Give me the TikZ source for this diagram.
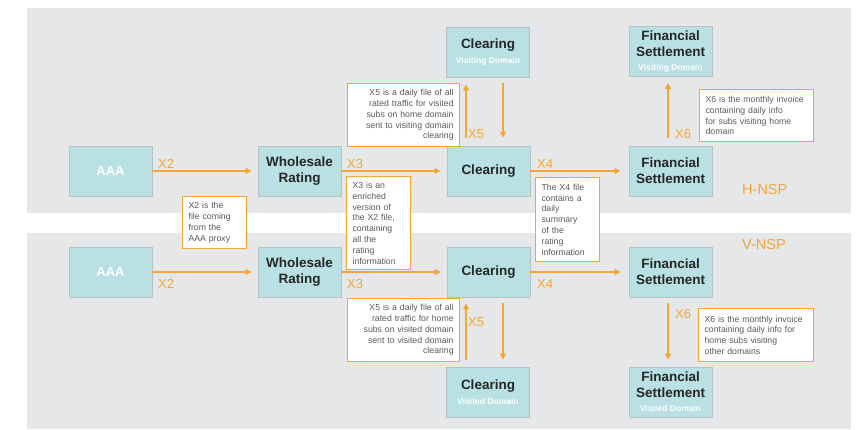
\documentclass[tikz,border=0pt]{standalone}
\usepackage{fontspec}
\setmainfont{Liberation Sans}
\usetikzlibrary{arrows.meta,calc}
\definecolor{panel}{HTML}{E6E7E8}
\definecolor{boxfill}{HTML}{B9E0E3}
\definecolor{boxline}{HTML}{B8C0C4}
\definecolor{org}{HTML}{F4A533}
\definecolor{titletxt}{HTML}{262626}
\definecolor{notetxt}{HTML}{5A5A5A}
\newcommand{\subdom}[1]{{\color{white}\fontsize{8.5}{10}\selectfont #1}}
\tikzset{
 proc/.style={draw=boxline, line width=0.9pt, fill=boxfill, minimum width=83pt, minimum height=50pt, inner sep=0pt, align=center, text=titletxt, font=\bfseries\fontsize{13.5}{16}\selectfont},
 aaabox/.style={proc, text=white, font=\bfseries\fontsize{13}{15}\selectfont},
 note/.style={draw=org, line width=1.2pt, fill=white, text=notetxt, font=\fontsize{8.7}{10.8}\selectfont, inner xsep=6pt, inner ysep=2pt, anchor=north west},
 arr/.style={draw=org, line width=1.2pt, -{Triangle[length=6pt,width=6pt]}},
 xlbl/.style={text=org, font=\fontsize{13}{15}\selectfont, inner sep=0pt, anchor=west},
 nsp/.style={text=org, font=\fontsize{14.5}{16}\selectfont, inner sep=0pt, anchor=west},
}
\begin{document}
\begin{tikzpicture}[x=1pt,y=-1pt]
\useasboundingbox (0,0) rectangle (858,429);
\fill[white] (0,0) rectangle (858,429);
% panels
\fill[panel] (27,8) rectangle (851,213);
\fill[panel] (27,233) rectangle (851,429);
% top row
\node[aaabox] (aaa1) at (110.5,171) {AAA};
\node[proc] (wr1) at (299.5,171) {Wholesale\\Rating};
\node[proc] (cl1) at (488.5,171) {Clearing};
\node[proc] (fs1) at (670.5,171) {Financial\\Settlement};
\node[proc] (clv) at (488,52) {Clearing\\[-1pt]\subdom{Visiting Domain}};
\node[proc] (fsv) at (670.5,51.5) {Financial\\Settlement\\[-2pt]\subdom{Visiting Domain}};
% bottom row
\node[aaabox] (aaa2) at (110.5,272) {AAA};
\node[proc] (wr2) at (299.5,272) {Wholesale\\Rating};
\node[proc] (cl2) at (488.5,272) {Clearing};
\node[proc] (fs2) at (670.5,272) {Financial\\Settlement};
\node[proc] (cld) at (488,392) {Clearing\\[-1pt]\subdom{Visited Domain}};
\node[proc] (fsd) at (670.5,392) {Financial\\Settlement\\[-2pt]\subdom{Visited Domain}};
% horizontal arrows
\draw[arr, shorten >=6pt] (aaa1.east) -- (wr1.west);
\draw[arr, shorten >=6pt] (wr1.east) -- (cl1.west);
\draw[arr, shorten >=8pt] (cl1.east) -- (fs1.west);
\draw[arr, shorten >=6pt] (aaa2.east) -- (wr2.west);
\draw[arr, shorten >=6pt] (wr2.east) -- (cl2.west);
\draw[arr, shorten >=8pt] (cl2.east) -- (fs2.west);
% vertical arrows top
\draw[arr, shorten <=8pt, shorten >=7pt] ([xshift=-22.5pt]cl1.north) -- ([xshift=-22pt]clv.south);
\draw[arr, shorten <=6pt, shorten >=8pt] ([xshift=15pt]clv.south) -- ([xshift=14.5pt]cl1.north);
\draw[arr, shorten <=8pt, shorten >=6pt] ([xshift=-2.5pt]fs1.north) -- ([xshift=-2.5pt]fsv.south);
% vertical arrows bottom
\draw[arr, shorten <=7pt, shorten >=6pt] ([xshift=-22pt]cld.north) -- ([xshift=-22.5pt]cl2.south);
\draw[arr, shorten <=6pt, shorten >=7pt] ([xshift=14.5pt]cl2.south) -- ([xshift=15pt]cld.north);
\draw[arr, shorten <=6pt, shorten >=7pt] ([xshift=-2.5pt]fs2.south) -- ([xshift=-2.5pt]fsd.north);
% labels
\node[xlbl] (lx2a) at (158,164) {X2};
\node[xlbl] (lx2b) at (158,284) {X2};
\node[xlbl] (lx3a) at (347,164) {X3};
\node[xlbl] (lx3b) at (347,284) {X3};
\node[xlbl] (lx4a) at (537,164) {X4};
\node[xlbl] (lx4b) at (537,284) {X4};
\node[xlbl] (lx5a) at (468,134) {X5};
\node[xlbl] (lx5b) at (468,322) {X5};
\node[xlbl] (lx6a) at (675,134) {X6};
\node[xlbl] (lx6b) at (675,314) {X6};
\node[nsp] (hnsp) at (742,190) {H-NSP};
\node[nsp] (vnsp) at (742,245) {V-NSP};
% notes
\node[note, text width=100pt, minimum height=63pt, align=right] (n5a) at (347,83)
 {X5 is a daily file of all\\rated traffic for visited\\subs on home domain\\sent to visiting domain\\clearing};
\node[note, text width=102pt, minimum height=52pt, align=left] (n6a) at (699,89)
 {X6 is the monthly invoice\\containing daily info\\for subs visiting home\\domain};
\node[note, text width=52pt, minimum height=52pt, align=left] (n2) at (182,196)
 {X2 is the\\file coming\\from the\\AAA proxy};
\node[note, text width=52pt, minimum height=93pt, align=left] (n3) at (346,176)
 {X3 is an\\enriched\\version of\\the X2 file,\\containing\\all the\\rating\\information};
\node[note, text width=52pt, minimum height=84pt, align=left] (n4) at (535,177)
 {The X4 file\\contains a\\daily\\summary\\of the\\rating\\information};
\node[note, text width=100pt, minimum height=63pt, align=right] (n5b) at (347,298)
 {X5 is a daily file of all\\rated traffic for home\\subs on visited domain\\sent to visited domain\\clearing};
\node[note, text width=103pt, minimum height=53pt, align=left] (n6b) at (698,308)
 {X6 is the monthly invoice\\containing daily info for\\home subs visiting\\other domains};
\end{tikzpicture}
\end{document}
